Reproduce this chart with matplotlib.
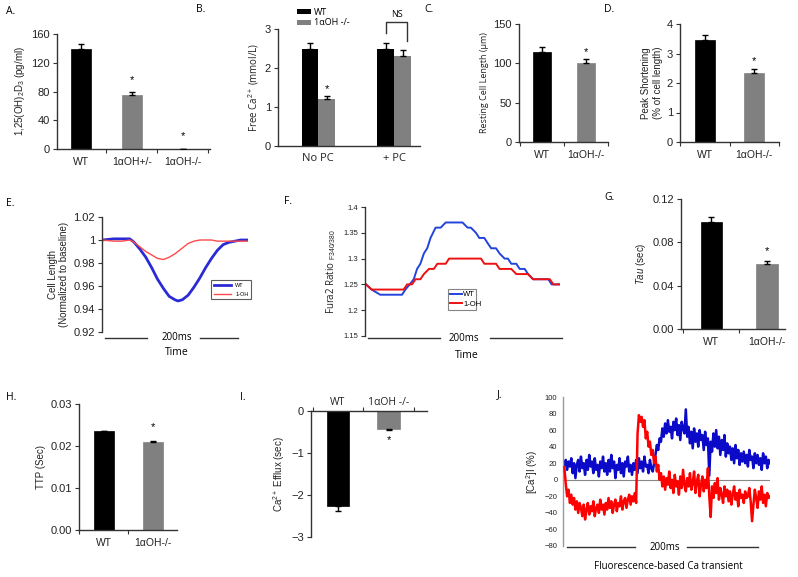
import matplotlib.pyplot as plt
import numpy as np

plt.rcParams['font.family'] = ['Liberation Sans', 'DejaVu Sans']
plt.rcParams['mathtext.fontset'] = 'custom'
plt.rcParams['mathtext.rm'] = 'Liberation Sans'
plt.rcParams['mathtext.it'] = 'Liberation Sans:italic'

# ---- data ----
a_labels = ['WT', '1αOH+/-', '1αOH-/-']
a_vals = [139, 75, 0]
a_errs = [7, 5, 0]
a_stars = [None, 96, 18]

b_groups = ['No PC', '+ PC']
b_wt = [2.5, 2.5]
b_wt_err = [0.15, 0.15]
b_ko = [1.2, 2.32]
b_ko_err = [0.08, 0.13]

ko_labels = ['WT', '1αOH-/-']
c_vals, c_errs = [115, 100], [6, 6]
d_vals, d_errs = [3.45, 2.33], [0.18, 0.13]
g_vals, g_errs = [0.099, 0.06], [0.004, 0.003]
h_vals, h_errs = [0.0235, 0.021], [0.0001, 0.0002]
i_vals, i_errs = [-2.25, -0.42], [0.12, 0.03]

# E: cell length traces
e_t = [0, 8, 14, 19, 22, 26, 30, 34, 38, 42, 46, 50, 52, 55, 59, 63, 67, 71, 75, 79, 83, 87, 91, 95, 100]
e_wt = [1.0, 1.001, 1.001, 1.001, 0.998, 0.992, 0.985, 0.976, 0.966, 0.958, 0.951, 0.948, 0.947,
        0.948, 0.952, 0.959, 0.967, 0.976, 0.984, 0.991, 0.996, 0.998, 0.999, 1.0, 1.0]
e_ko = [1.0, 0.999, 0.999, 1.0, 0.998, 0.994, 0.99, 0.987, 0.984, 0.983, 0.985, 0.988, 0.99,
        0.993, 0.997, 0.999, 1.0, 1.0, 1.0, 0.999, 0.999, 0.999, 0.999, 0.999, 0.999]

# F: Fura2 ratio traces
f_wt_t = [0.5, 3.4, 7.8, 19.0, 20.7, 22.9, 25.0, 26.7, 28.4, 30.2, 31.9, 33.6, 36.2, 38.8, 41.4,
          50.0, 52.6, 54.3, 56.9, 58.6, 61.2, 62.9, 64.7, 67.2, 69.0, 71.6, 73.3, 75.0, 77.6,
          79.3, 81.9, 83.6, 86.2, 88.8, 91.4, 94.0, 95.7, 100]
f_wt = [1.25, 1.24, 1.23, 1.23, 1.24, 1.25, 1.26, 1.28, 1.29, 1.31, 1.32, 1.34, 1.36, 1.36, 1.37,
        1.37, 1.36, 1.36, 1.35, 1.34, 1.34, 1.33, 1.32, 1.32, 1.31, 1.30, 1.30, 1.29, 1.29,
        1.28, 1.28, 1.27, 1.26, 1.26, 1.26, 1.26, 1.25, 1.25]
f_ko_t = [0.5, 3.4, 19.8, 21.6, 24.1, 25.9, 28.4, 30.2, 32.8, 35.3, 37.1, 41.4, 43.1, 59.5,
          61.2, 67.2, 69.0, 75.0, 77.6, 83.6, 86.2, 94.8, 96.6, 100]
f_ko = [1.25, 1.24, 1.24, 1.25, 1.25, 1.26, 1.26, 1.27, 1.28, 1.28, 1.29, 1.29, 1.30, 1.30,
        1.29, 1.29, 1.28, 1.28, 1.27, 1.27, 1.26, 1.26, 1.25, 1.25]

# J: fluorescence Ca transient (%)
j_wt = [18, 24, 12, 22, 16, 26, 8, 20, 2, 18,
        24, 10, 28, 14, 20, 6, 24, 12, 30, 16,
        22, 8, 26, 12, 18, 4, 22, 14, 28, 10,
        20, 6, 24, 10, 30, 14, 22, 2, 18, 12,
        26, 8, 20, 4, 22, 16, 28, 10, 18, 6,
        20, 12, 24, 8, 26, 14, 22, 10, 28, 16,
        18, 8, 24, 14, 10, 20, 30, 42, 36, 50,
        46, 62, 52, 68, 56, 72, 58, 64, 50, 70,
        60, 74, 54, 66, 48, 70, 62, 56, 85, 52,
        64, 44, 58, 38, 62, 46, 56, 40, 60, 48,
        54, 36, 58, 42, 50, 5, 46, 34, 56, 40,
        60, 38, 52, 30, 48, 36, 54, 28, 44, 32,
        40, 24, 38, 20, 42, 26, 36, 18, 32, 22,
        34, 20, 30, 16, 36, 24, 28, 14, 32, 20,
        30, 18, 26, 12, 32, 20, 28, 14, 24, 20]
j_ko = [15, -5, -20, -12, -28, -18, -30, -22, -36, -26,
        -40, -28, -34, -44, -30, -48, -36, -28, -42, -32,
        -38, -26, -44, -34, -30, -40, -24, -36, -30, -42,
        -28, -36, -22, -34, -26, -40, -30, -24, -38, -28,
        -32, -20, -36, -26, -22, -34, -24, -18, -30, -20,
        -26, -16, -28, 55, 78, 70, 76, 64, 72, 50,
        58, 40, 46, 30, 36, 20, 28, 10, 18, 0,
        8, -8, 4, -12, 2, -6, 10, -10, 0, -16,
        6, -8, -2, -18, 4, -10, 12, -6, -14, 2,
        -8, 8, -12, -4, 10, -16, -2, 6, -20, -6,
        4, -14, 0, -10, 14, -20, -45, -8, -22, -4,
        -16, 2, -24, -10, -18, -28, -8, -20, -12, -26,
        -14, -30, -18, -8, -24, -16, -32, -12, -22, -18,
        -28, -14, -22, -20, -10, -26, -50, -30, -12, -22,
        -34, -14, -24, -8, -28, -18, -32, -16, -22, -20]

# ---- figure ----
W, H = 798, 577
fig = plt.figure(figsize=(W / 100, H / 100), dpi=100)
INK = '#333333'
GREY = '#808080'
CAL = ['Open Sans', 'Liberation Sans', 'DejaVu Sans']


def px_axes(x0, y0, x1, y1):
    return fig.add_axes([x0 / W, 1 - y1 / H, (x1 - x0) / W, (y1 - y0) / H])


def style(ax, fs=8):
    for s in ['top', 'right']:
        ax.spines[s].set_visible(False)
    for s in ['left', 'bottom', 'top']:
        ax.spines[s].set_color(INK)
        ax.spines[s].set_linewidth(1)
    ax.tick_params(axis='both', direction='out', length=3, width=0.8, color=INK,
                   labelsize=fs, labelcolor='#222222', pad=2)


def letter(x, y, s):
    fig.text(x / W, 1 - y / H, s, fontsize=7.5, family=CAL, ha='left', va='center')


def bar_panel(rect, xlim, vals, errs, ylim, yticks, ylabel, labels, stars,
              width=0.4, fs=8, ylab_fs=7, ylab_family=None):
    ax = px_axes(*rect)
    style(ax, fs)
    x = np.arange(len(vals))
    cols = ['black', GREY, GREY][:len(vals)]
    neg = vals[0] < 0
    yerr = [errs, [0] * len(errs)] if neg else [[0] * len(errs), errs]
    ax.bar(x, vals, width=width, color=cols, edgecolor=cols, linewidth=0.5, zorder=2)
    ax.errorbar(x, vals, yerr=yerr, fmt='none', ecolor='black', elinewidth=1,
                capsize=2.5, capthick=1, zorder=3)
    for xi, s in zip(x, stars):
        if s is not None:
            ax.text(xi, s, '*', ha='center', va='center', fontsize=8)
    ax.set_xlim(*xlim)
    ax.set_ylim(*ylim)
    ax.set_yticks(yticks)
    ax.set_xticks(x)
    ax.set_xticklabels(labels)
    ax.set_xticks([k + 0.5 for k in range(-1, len(vals)) if xlim[0] <= k + 0.5 <= xlim[1]],
                  minor=True)
    ax.tick_params(axis='x', which='major', length=0, pad=6, labelsize=7.5)
    ax.tick_params(axis='x', which='minor', length=3, direction='out', color=INK, width=0.8)
    kw = {} if ylab_family is None else {'family': ylab_family}
    ax.set_ylabel(ylabel, fontsize=ylab_fs, color='#222222', labelpad=3, **kw)
    return ax


# A
bar_panel((57, 34, 210, 149), (-0.47, 2.53), a_vals, a_errs, (0, 160),
          [0, 40, 80, 120, 160], r'1,25(OH)$_2$D$_3$ (pg/ml)', a_labels, a_stars, width=0.41)
letter(6, 12, 'A.')

# B
axb = px_axes(278, 29, 420, 146)
style(axb, 8)
xb = np.arange(len(b_groups))
bw = 0.22
axb.bar(xb - bw / 2, b_wt, width=bw, color='black', zorder=2, label='WT')
axb.bar(xb + bw / 2, b_ko, width=bw, color=GREY, zorder=2, label='1αOH -/-')
axb.errorbar(xb - bw / 2, b_wt, yerr=[[0, 0], b_wt_err], fmt='none', ecolor='black',
             elinewidth=1, capsize=2.5, capthick=1, zorder=3)
axb.errorbar(xb + bw / 2, b_ko, yerr=[[0, 0], b_ko_err], fmt='none', ecolor='black',
             elinewidth=1, capsize=2.5, capthick=1, zorder=3)
axb.text(xb[0] + bw / 2, 1.45, '*', ha='center', va='center', fontsize=8)
axb.set_xlim(-0.53, 1.34)
axb.set_ylim(0, 3)
axb.set_yticks([0, 1, 2, 3])
axb.set_xticks(xb)
axb.set_xticklabels(b_groups, family=CAL, fontsize=8)
axb.tick_params(axis='x', length=0, pad=5)
axb.tick_params(axis='y', length=3)
axb.set_ylabel(r'Free Ca$^{2+}$ (mmol/L)', fontsize=7, family=CAL, color='#222222', labelpad=3)
axb.plot([0.89, 0.89, 1.17, 1.17], [2.9, 3.18, 3.18, 2.69], color=INK, lw=1, clip_on=False)
axb.text(1.03, 3.36, 'NS', ha='center', va='center', fontsize=6.5, family=CAL)
axb.legend(loc='upper left', bbox_to_anchor=(292 / W, 1 - 3 / H), bbox_transform=fig.transFigure,
           frameon=False, handlelength=1.6, handleheight=0.45, borderpad=0,
           labelspacing=0.2, handletextpad=0.3, prop={'family': CAL, 'size': 6.5})
letter(196, 10, 'B.')

# C
bar_panel((519, 24, 608, 142), (-0.52, 1.5), c_vals, c_errs, (0, 150), [0, 50, 100, 150],
          'Resting Cell Length (µm)', ko_labels, [None, 114], width=0.39, ylab_family=CAL,
          ylab_fs=6.5)
letter(424, 10, 'C.')

# D
bar_panel((680, 24, 779, 142), (-0.51, 1.51), d_vals, d_errs, (0, 4), [0, 1, 2, 3, 4],
          'Peak Shortening\n(% of cell length)', ko_labels, [None, 2.75], width=0.41)
letter(604, 10, 'D.')

# E
axe = px_axes(102, 217, 248, 332)
style(axe, 8)
axe.spines['bottom'].set_visible(False)
axe.set_xticks([])
axe.plot(e_t, e_wt, color='#2b2bd6', lw=2, label='WT')
axe.plot(e_t, e_ko, color='#ff4a4a', lw=1, label='1-OH')
axe.set_xlim(0, 100)
axe.set_ylim(0.92, 1.02)
axe.set_yticks([0.92, 0.94, 0.96, 0.98, 1.0, 1.02])
axe.set_yticklabels(['0.92', '0.94', '0.96', '0.98', '1', '1.02'])
axe.set_ylabel('Cell Length\n(Normalized to baseline)', fontsize=7, color='#222222', labelpad=3)
axe.plot([0.02, 0.31], [-0.052, -0.052], color=INK, lw=1, transform=axe.transAxes, clip_on=False)
axe.plot([0.67, 0.93], [-0.052, -0.052], color=INK, lw=1, transform=axe.transAxes, clip_on=False)
axe.text(0.51, -0.052, '200ms', transform=axe.transAxes, ha='center', va='center',
         fontsize=7, family=CAL)
axe.text(0.51, -0.18, 'Time', transform=axe.transAxes, ha='center', va='center',
         fontsize=7.5, family=CAL)
le = axe.legend(loc='lower left', bbox_to_anchor=(0.73, 0.26, 0.31, 0.22), mode='expand',
                fontsize=4, frameon=True, fancybox=False, handlelength=3, borderpad=0.5,
                labelspacing=0.6)
le.get_frame().set_edgecolor(INK)
le.get_frame().set_linewidth(0.8)
letter(6, 204, 'E.')

# F
axf = px_axes(365, 207, 560, 336)
style(axf, 5.5)
axf.spines['bottom'].set_visible(False)
axf.set_xticks([])
axf.plot(f_wt_t, f_wt, color='#2244dd', lw=1.4, label='WT')
axf.plot(f_ko_t, f_ko, color='#ee1111', lw=1.4, label='1-OH')
axf.set_xlim(0, 100)
axf.set_ylim(1.15, 1.4)
axf.set_yticks([1.15, 1.2, 1.25, 1.3, 1.35, 1.4])
axf.set_yticklabels(['1.15', '1.2', '1.25', '1.3', '1.35', '1.4'])
axf.set_ylabel(r'Fura2 Ratio $_{\mathrm{F340/380}}$', fontsize=7, family=CAL, color='#222222',
               labelpad=4)
axf.plot([0.015, 0.385], [-0.016, -0.016], color=INK, lw=1, transform=axf.transAxes, clip_on=False)
axf.plot([0.64, 1.01], [-0.016, -0.016], color=INK, lw=1, transform=axf.transAxes, clip_on=False)
axf.text(0.505, -0.016, '200ms', transform=axf.transAxes, ha='center', va='center',
         fontsize=7, family=CAL)
axf.text(0.52, -0.155, 'Time', transform=axf.transAxes, ha='center', va='center',
         fontsize=7.5, family=CAL)
lf = axf.legend(loc='lower left', bbox_to_anchor=(0.405, 0.17, 0.185, 0.2), mode='expand',
                fontsize=5.5, frameon=True, fancybox=False, handlelength=1.5, borderpad=0.3,
                labelspacing=0.3, handletextpad=0.2)
lf.get_frame().set_edgecolor('#666666')
lf.get_frame().set_linewidth(0.8)
letter(284, 202, 'F.')

# G
bar_panel((681, 199, 785, 329), (-0.54, 1.32), g_vals, g_errs, (0, 0.12),
          [0, 0.04, 0.08, 0.12], r'$\mathit{Tau}$ (sec)', ko_labels, [None, 0.072], width=0.38)
letter(604, 198, 'G.')

# H
bar_panel((79, 404, 177, 530), (-0.51, 1.49), h_vals, h_errs, (0, 0.03),
          [0, 0.01, 0.02, 0.03], 'TTP (Sec)', ko_labels, [None, 0.0245], width=0.41)
letter(6, 398, 'H.')

# I
axi = bar_panel((311, 411, 427, 537), (-0.53, 1.75), i_vals, i_errs, (-3, 0),
                [-3, -2, -1, 0], r'Ca$^{2+}$ Efflux (sec)', ['WT', '1αOH -/-'], [None, -0.69],
                width=0.45)
axi.spines['bottom'].set_visible(False)
axi.spines['top'].set_visible(True)
axi.xaxis.tick_top()
axi.tick_params(axis='x', which='major', length=0, pad=2)
for t in axi.get_xticklabels():
    t.set_family(CAL)
    t.set_fontsize(7.5)
letter(240, 398, 'I.')

# J
axj = px_axes(563, 397, 770, 546)
style(axj, 5.5)
axj.spines['bottom'].set_visible(False)
axj.spines['left'].set_color('#999999')
axj.tick_params(axis='y', length=0, pad=4)
axj.set_xticks([])
n = len(j_wt)
axj.axhline(0, color='#888888', lw=0.8, zorder=1)
axj.plot(range(n), j_wt, color='#0a0ac8', lw=1.8, zorder=2)
axj.plot(range(len(j_ko)), j_ko, color='#ff0000', lw=1.8, zorder=3)
axj.set_xlim(-1, n - 1)
axj.set_ylim(-80, 100)
axj.set_yticks(list(range(-80, 101, 20)))
axj.set_ylabel(r'[Ca$^2$]I (%)', fontsize=7, color='#222222', labelpad=3)
axj.plot([0.02, 0.35], [-0.007, -0.007], color=INK, lw=1, transform=axj.transAxes, clip_on=False)
axj.plot([0.60, 0.94], [-0.007, -0.007], color=INK, lw=1, transform=axj.transAxes, clip_on=False)
axj.text(0.49, -0.007, '200ms', transform=axj.transAxes, ha='center', va='center',
         fontsize=7, family=CAL)
axj.text(0.51, -0.14, 'Fluorescence-based Ca transient', transform=axj.transAxes,
         ha='center', va='center', fontsize=7, family=CAL)
letter(497, 395, 'J.')

fig.savefig('out.png', dpi=100)
